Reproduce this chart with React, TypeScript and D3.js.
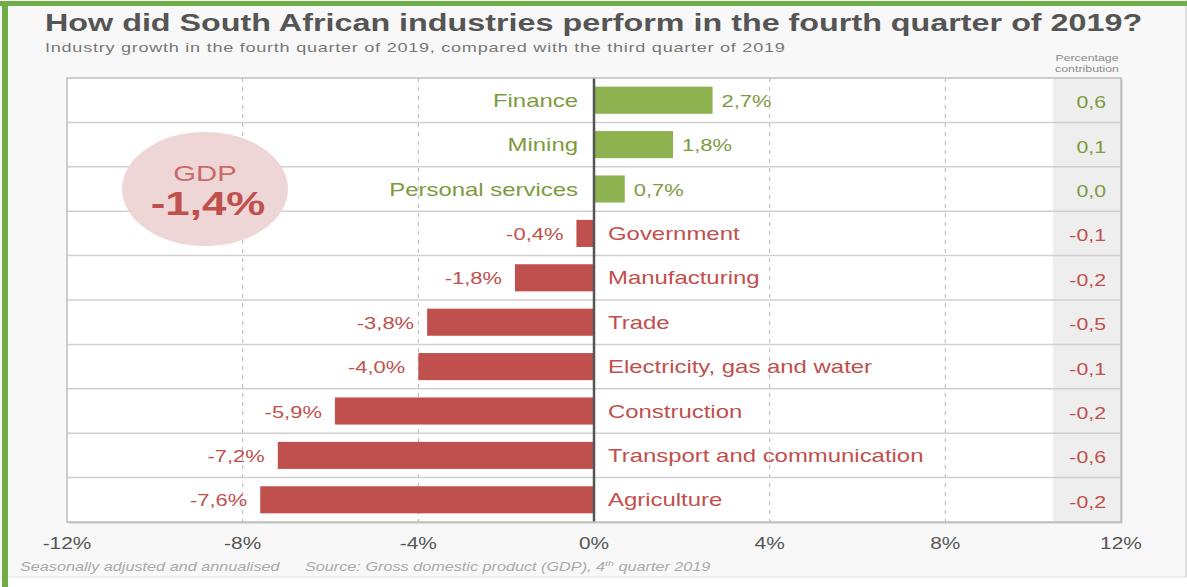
import React from "react";
import * as d3 from "d3";

const categories = [
  "Finance",
  "Mining",
  "Personal services",
  "Government",
  "Manufacturing",
  "Trade",
  "Electricity, gas and water",
  "Construction",
  "Transport and communication",
  "Agriculture",
];
const growth = [2.7, 1.8, 0.7, -0.4, -1.8, -3.8, -4.0, -5.9, -7.2, -7.6];
const contribution = ["0,6", "0,1", "0,0", "-0,1", "-0,2", "-0,5", "-0,1", "-0,2", "-0,6", "-0,2"];
const ticks = [-12, -8, -4, 0, 4, 8, 12];
const gridTicks = [-8, -4, 4, 8];

const W = 1187;
const H = 587;
const SX = 1.33;
const FONT = "'Liberation Sans', Arial, sans-serif";
const GREEN = "#8db24f";
const GREEN_T = "#7d9b3e";
const RED = "#c0504d";

const fmt = (v: number) => (v.toFixed(1) + "%").replace(".", ",");

function T(props: any) {
  const { x, y, children, anchor = "start", size = 16, weight = "normal", fill = "#555", italic = false, ls = 0 } = props;
  return (
    <g transform={`translate(${x},${y}) scale(${SX},1)`}>
      <text
        x={0}
        y={0}
        textAnchor={anchor}
        fontSize={size}
        fontWeight={weight}
        fontStyle={italic ? "italic" : "normal"}
        fill={fill}
        fontFamily={FONT}
        letterSpacing={ls}
      >
        {children}
      </text>
    </g>
  );
}

export default function App() {
  const x = d3.scaleLinear().domain([-12, 12]).range([67, 1121]);
  const y = d3.scaleBand<string>().domain(categories).range([78, 522]).paddingInner(0);
  const bw = y.bandwidth();
  const barH = bw * 0.61;
  const x0 = x(0);
  const colL = 1053;

  return (
    <svg width={W} height={H} style={{ position: "absolute", left: 0, top: 0 }}>
      <rect x={0} y={0} width={W} height={H} fill="#ffffff" />
      <rect x={0} y={0} width={W} height={577} fill="#f8f8f8" />
      <line x1={0} x2={W} y1={577} y2={577} stroke="#e2e2e2" />
      <rect x={1185} y={0} width={2} height={577} fill="#e0e0e0" />
      <rect x={0} y={1} width={W} height={5} fill="#70ad47" />
      <rect x={2} y={1} width={6} height={H} fill="#70ad47" />

      <T x={45} y={31} size={24.3} weight="bold" fill="#555">
        How did South African industries perform in the fourth quarter of 2019?
      </T>
      <T x={45} y={52} size={13.6} fill="#777" ls={0.55}>
        Industry growth in the fourth quarter of 2019, compared with the third quarter of 2019
      </T>
      <T x={1087} y={61} size={9.3} anchor="middle" fill="#888">Percentage</T>
      <T x={1087} y={72} size={9.3} anchor="middle" fill="#888">contribution</T>

      {/* frame */}
      <rect x={x(-12) + 1.5} y={79.5} width={x(12) - x(-12)} height={444} fill="#c8c8c8" />
      <rect x={x(-12)} y={78} width={x(12) - x(-12)} height={444} fill="#ffffff" />
      <rect x={colL} y={78} width={x(12) - colL} height={444} fill="#eeeeee" />

      {gridTicks.map((t) => (
        <line key={t} x1={x(t)} x2={x(t)} y1={78} y2={522} stroke="#b5b5b5" strokeDasharray="4,5" />
      ))}
      {categories.slice(1).map((c) => (
        <line key={c} x1={x(-12)} x2={x(12)} y1={y(c)!} y2={y(c)!} stroke="#d0d0d0" strokeWidth={1.5} />
      ))}

      <ellipse cx={205} cy={189} rx={83} ry={57} fill="#efd6d6" />
      <T x={205} y={181} size={22} anchor="middle" fill="#c96a68">GDP</T>
      <T x={208} y={215} size={33} weight="bold" anchor="middle" fill="#c0504d">-1,4%</T>

      {categories.map((c, i) => {
        const v = growth[i];
        const pos = v >= 0;
        const yc = y(c)! + bw / 2;
        const bx = pos ? x0 : x(v);
        const bwid = Math.abs(x(v) - x0);
        const tcol = pos ? GREEN_T : RED;
        return (
          <g key={c}>
            <rect x={bx} y={yc - barH / 2} width={bwid} height={barH} fill={pos ? GREEN : RED} />
            <T x={pos ? x0 - 16 : x0 + 14} y={yc + 6.5} size={18} anchor={pos ? "end" : "start"} fill={tcol}>
              {c}
            </T>
            <T x={pos ? x(v) + 9 : x(v) - 13} y={yc + 6.5} size={16.5} anchor={pos ? "start" : "end"} fill={tcol}>
              {fmt(v)}
            </T>
            <T x={1106} y={yc + 8} size={16} anchor="end" fill={tcol}>
              {contribution[i]}
            </T>
          </g>
        );
      })}

      <line x1={x0} x2={x0} y1={78} y2={522} stroke="#555" strokeWidth={2.5} />
      <rect x={x(-12)} y={78} width={x(12) - x(-12)} height={444} fill="none" stroke="#bdbdbd" strokeWidth={1.5} />

      {ticks.map((t) => (
        <T key={t} x={x(t)} y={549} size={15.7} anchor="middle" fill="#555">
          {t + "%"}
        </T>
      ))}

      <T x={20} y={571} size={12.2} italic fill="#aaa">Seasonally adjusted and annualised</T>
      <g transform={`translate(305,571) scale(${SX},1)`}>
        <text fontSize={12.2} fontStyle="italic" fill="#aaa" fontFamily={FONT}>
          Source: Gross domestic product (GDP), 4
          <tspan fontSize={8} dy={-5}>th</tspan>
          <tspan dy={5}> quarter 2019</tspan>
        </text>
      </g>
    </svg>
  );
}
